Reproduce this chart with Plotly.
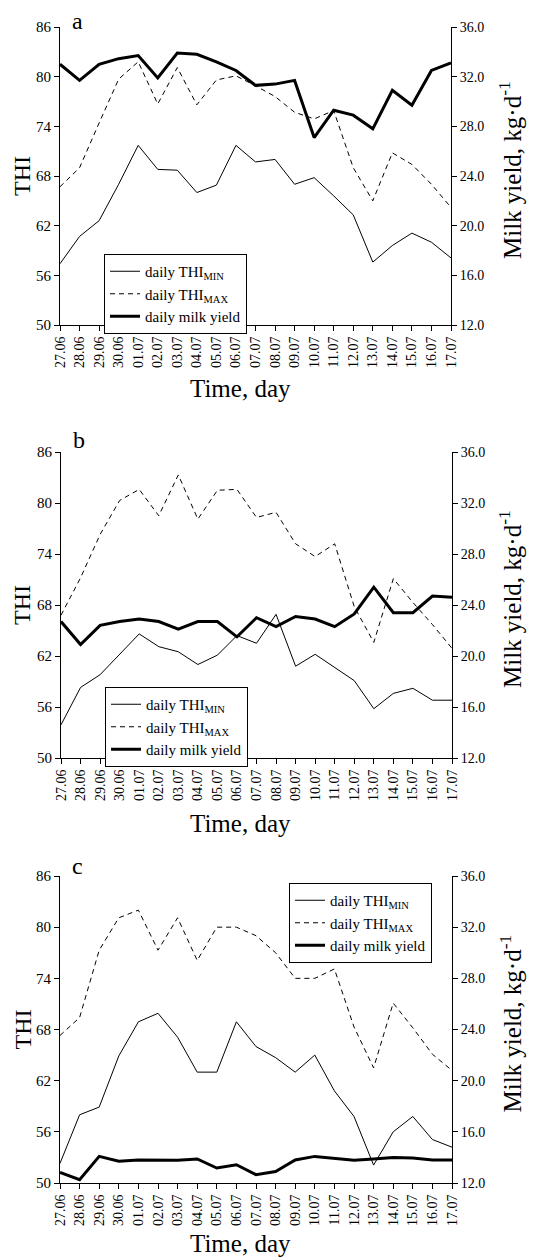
import plotly.graph_objects as go

days = ["27.06", "28.06", "29.06", "30.06", "01.07", "02.07", "03.07", "04.07", "05.07",
        "06.07", "07.07", "08.07", "09.07", "10.07", "11.07", "12.07", "13.07", "14.07",
        "15.07", "16.07", "17.07"]

# panel a
a_thi_min = [57.4, 60.7, 62.6, 67.0, 71.7, 68.8, 68.7, 66.0, 66.9, 71.7, 69.7, 70.0,
             67.0, 67.8, 65.6, 63.3, 57.6, 59.6, 61.1, 60.0, 58.1]
a_thi_max = [66.7, 69.0, 74.4, 79.7, 81.8, 76.7, 81.1, 76.6, 79.6, 80.1, 78.9, 77.6,
             75.7, 74.9, 75.9, 69.0, 65.0, 70.8, 69.4, 67.0, 64.2]
a_milk = [33.0, 31.7, 33.0, 33.45, 33.7, 31.9, 33.9, 33.8, 33.2, 32.5, 31.3, 31.4,
          31.7, 27.1, 29.3, 28.9, 27.8, 30.9, 29.7, 32.5, 33.1]

# panel b
b_thi_min = [53.9, 58.3, 59.8, 62.2, 64.6, 63.1, 62.5, 61.0, 62.1, 64.4, 63.5, 66.9,
             60.8, 62.2, 60.6, 59.1, 55.8, 57.6, 58.2, 56.8, 56.8]
b_thi_max = [66.8, 71.2, 76.3, 80.3, 81.6, 78.5, 83.3, 78.1, 81.5, 81.6, 78.3, 78.9,
             75.2, 73.7, 75.2, 67.8, 63.6, 71.1, 68.3, 65.7, 62.9]
b_milk = [22.7, 20.9, 22.4, 22.7, 22.9, 22.7, 22.1, 22.7, 22.7, 21.5, 23.0, 22.3,
          23.1, 22.9, 22.3, 23.3, 25.4, 23.4, 23.4, 24.7, 24.6]

# panel c
c_thi_min = [52.3, 58.0, 58.9, 64.9, 68.9, 69.9, 67.1, 63.0, 63.0, 68.9, 66.0, 64.7,
             63.0, 65.0, 60.8, 57.8, 52.1, 56.0, 57.8, 55.1, 54.2]
c_thi_max = [67.3, 69.4, 77.3, 81.1, 82.0, 77.3, 81.1, 76.1, 80.0, 80.0, 79.0, 77.0,
             74.0, 74.0, 75.1, 68.3, 63.5, 71.1, 68.2, 65.1, 63.2]
c_milk = [12.83, 12.26, 14.08, 13.7, 13.8, 13.77, 13.77, 13.88, 13.17, 13.43, 12.65, 12.9,
          13.8, 14.08, 13.95, 13.77, 13.88, 14.0, 13.95, 13.8, 13.8]

thi_ticks = [50, 56, 62, 68, 74, 80, 86]
milk_ticks = [12.0, 16.0, 20.0, 24.0, 28.0, 32.0, 36.0]
panel_letters = ["a", "b", "c"]
legend_names = ["daily THI<sub>MIN</sub>", "daily THI<sub>MAX</sub>", "daily milk yield"]

OFF = 8                      # default page body margin
W, H = 545 - OFF, 1258 - OFF
FONT = "Liberation Serif"


def px_x(X):
    return (X - OFF) / W


def px_y(Y):
    return 1 - (Y - OFF) / H


# screen-pixel boxes of the plot areas (left, right, top, bottom)
boxes = [(60, 451, 27, 325), (61, 452, 452, 758), (60, 452, 876, 1183)]
legend_pos = [(104, 254), (105, 687), (289, 883)]
letter_pos = [(77, 21), (79, 440), (77, 866)]
xtitle_y = [388, 823, 1243]

panels = [(a_thi_min, a_thi_max, a_milk), (b_thi_min, b_thi_max, b_milk),
          (c_thi_min, c_thi_max, c_milk)]

fig = go.Figure()
layout = dict(template="none", width=W, height=H, margin=dict(l=0, r=0, t=0, b=0),
              paper_bgcolor="white", plot_bgcolor="white",
              font=dict(family=FONT, color="black", size=14))
annotations = []

for p, (tmin, tmax, milk) in enumerate(panels):
    l, r, t, b = boxes[p]
    xd = [px_x(l), px_x(r)]
    yd = [px_y(b), px_y(t)]
    xn = "x" if p == 0 else f"x{p+1}"
    yl = f"y{2*p+1}" if p else "y"
    yr = f"y{2*p+2}"
    lg = "legend" if p == 0 else f"legend{p+1}"

    fig.add_trace(go.Scatter(x=days, y=tmin, xaxis=xn, yaxis=yl, mode="lines",
                             name=legend_names[0], legend=lg,
                             line=dict(color="black", width=1)))
    fig.add_trace(go.Scatter(x=days, y=tmax, xaxis=xn, yaxis=yl, mode="lines",
                             name=legend_names[1], legend=lg,
                             line=dict(color="black", width=1, dash="5px,4px")))
    fig.add_trace(go.Scatter(x=days, y=milk, xaxis=xn, yaxis=yr, mode="lines",
                             name=legend_names[2], legend=lg,
                             line=dict(color="black", width=3)))

    xkey = "xaxis" if p == 0 else f"xaxis{p+1}"
    ylkey = "yaxis" if p == 0 else f"yaxis{2*p+1}"
    yrkey = f"yaxis{2*p+2}"
    common = dict(showline=True, linecolor="black", linewidth=1, automargin=False,
                  ticks="outside", ticklen=5, tickcolor="black", tickwidth=1,
                  showgrid=False, zeroline=False)
    layout[xkey] = dict(domain=xd, anchor=yl, type="category", range=[0, 20],
                        tickangle=-90, tickfont=dict(family=FONT, size=14, color="black"),
                        **common)
    layout[ylkey] = dict(domain=yd, anchor=xn, range=[50, 86], tickvals=thi_ticks,
                         tickfont=dict(family=FONT, size=15, color="black"), **common)
    layout[yrkey] = dict(domain=yd, anchor=xn, overlaying=yl, side="right",
                         range=[12, 36], tickvals=milk_ticks, tickformat=".1f",
                         tickfont=dict(family=FONT, size=14, color="black"), **common)
    lx, ly = legend_pos[p]
    layout[lg] = dict(x=px_x(lx), y=px_y(ly), xanchor="left", yanchor="top",
                      bgcolor="white", bordercolor="black", borderwidth=1,
                      font=dict(family=FONT, size=15, color="black"),
                      tracegroupgap=0, itemwidth=30)

    # panel letter
    lxp, lyp = letter_pos[p]
    annotations.append(dict(text=panel_letters[p], x=px_x(lxp), y=px_y(lyp),
                            xref="paper", yref="paper", showarrow=False,
                            xanchor="center", yanchor="middle",
                            font=dict(family=FONT, size=24, color="black")))
    cy = (t + b) / 2
    annotations.append(dict(text="THI", x=px_x(22), y=px_y(cy), xref="paper", yref="paper",
                            showarrow=False, textangle=-90, xanchor="center", yanchor="middle",
                            font=dict(family=FONT, size=24, color="black")))
    annotations.append(dict(text="Milk yield, kg·d<sup>-1</sup>", x=px_x(510), y=px_y(cy - 6),
                            xref="paper", yref="paper", showarrow=False, textangle=-90,
                            xanchor="center", yanchor="middle",
                            font=dict(family=FONT, size=25, color="black")))
    annotations.append(dict(text="Time, day", x=px_x(240), y=px_y(xtitle_y[p]),
                            xref="paper", yref="paper", showarrow=False,
                            xanchor="center", yanchor="middle",
                            font=dict(family=FONT, size=25, color="black")))

layout["annotations"] = annotations
fig.update_layout(**layout)
fig.write_html("out.html")
